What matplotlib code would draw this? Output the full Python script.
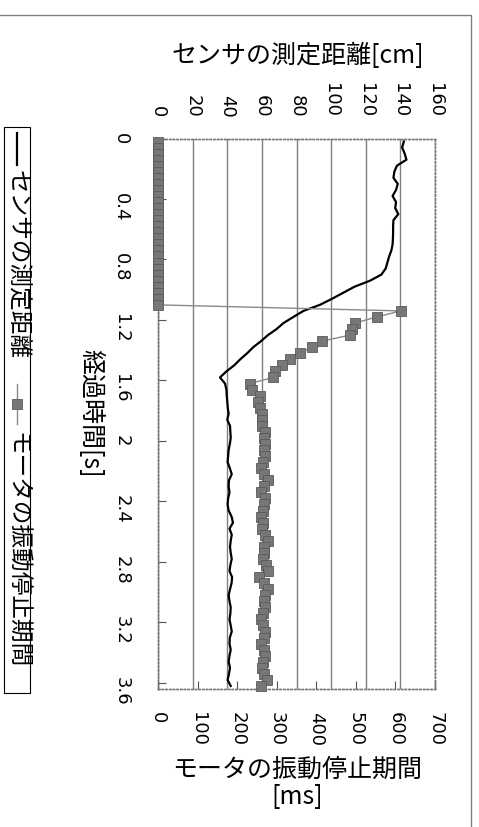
import numpy as np
import matplotlib.pyplot as plt
from matplotlib.lines import Line2D
from matplotlib.patches import Rectangle

plt.rcParams['font.family'] = ['Noto Sans CJK JP', 'DejaVu Sans']

# elapsed time [s], one sample every 0.04 s
time_s = [
    0.02, 0.06, 0.10, 0.14, 0.18, 0.22, 0.26, 0.30, 0.34, 0.38,
    0.42, 0.46, 0.50, 0.54, 0.58, 0.62, 0.66, 0.70, 0.74, 0.78,
    0.82, 0.86, 0.90, 0.94, 0.98, 1.02, 1.06, 1.10, 1.14, 1.18,
    1.22, 1.26, 1.30, 1.34, 1.38, 1.42, 1.46, 1.50, 1.54, 1.58,
    1.62, 1.66, 1.70, 1.74, 1.78, 1.82, 1.86, 1.90, 1.94, 1.98,
    2.02, 2.06, 2.10, 2.14, 2.18, 2.22, 2.26, 2.30, 2.34, 2.38,
    2.42, 2.46, 2.50, 2.54, 2.58, 2.62, 2.66, 2.70, 2.74, 2.78,
    2.82, 2.86, 2.90, 2.94, 2.98, 3.02, 3.06, 3.10, 3.14, 3.18,
    3.22, 3.26, 3.30, 3.34, 3.38, 3.42, 3.46, 3.50, 3.54, 3.58,
    3.62,
]

# sensor distance [cm]
sensor_cm = [
    142.0, 141.0, 142.5, 143.5, 138.0, 136.5, 136.0, 138.5, 137.5, 135.5,
    137.5, 137.0, 138.8, 136.0, 135.8, 135.8, 135.7, 135.5, 134.8, 133.5,
    132.5, 131.5, 129.0, 122.5, 113.5, 107.0, 100.5, 93.5, 84.0, 78.2,
    72.5, 68.5, 63.5, 59.5, 55.0, 51.5, 47.5, 44.0, 39.5, 35.8,
    38.7, 39.5, 39.7, 40.0, 40.3, 40.8, 40.0, 41.6, 41.8, 42.0,
    41.5, 40.8, 40.5, 40.2, 41.5, 42.6, 41.0, 40.8, 41.3, 40.5,
    40.2, 40.8, 42.5, 43.3, 41.3, 42.6, 42.0, 41.6, 42.0, 42.6,
    41.8, 41.3, 42.8, 42.5, 41.6, 40.8, 41.3, 42.0, 41.8, 41.3,
    42.0, 42.6, 41.5, 41.3, 42.0, 41.3, 40.8, 41.6, 41.0, 40.2,
    42.0,
]

# motor vibration stop period [ms]
motor_ms = [
    0, 0, 0, 0, 0, 0, 0, 0, 0, 0,
    0, 0, 0, 0, 0, 0, 0, 0, 0, 0,
    0, 0, 0, 0, 0, 0, 0, 0, 613, 553,
    498, 489, 485, 414, 388, 359, 334, 313, 296, 291,
    233, 237, 258, 253, 258, 262, 262, 263, 270, 268,
    270, 268, 270, 265, 260, 268, 279, 268, 260, 270,
    268, 265, 260, 265, 262, 270, 279, 268, 268, 266,
    272, 279, 256, 268, 279, 270, 268, 270, 265, 260,
    265, 270, 268, 260, 268, 270, 265, 263, 268, 276,
    260,
]

time_ticks = [0, 0.4, 0.8, 1.2, 1.6, 2, 2.4, 2.8, 3.2, 3.6]
time_labels = ['0', '0.4', '0.8', '1.2', '1.6', '2', '2.4', '2.8', '3.2', '3.6']
cm_ticks = np.arange(0, 161, 20)
ms_ticks = np.arange(0, 701, 100)

W, H = 479, 828


def fx(x):
    return x / W


def fy(y):
    return 1 - y / H


fig = plt.figure(figsize=(W / 100, H / 100), dpi=100)

# outer chart frame (only top and right edges visible)
fig.patches.append(Rectangle((-0.05, -0.05), fx(470.7) + 0.05, fy(15.7) + 0.05,
                             transform=fig.transFigure, fill=False,
                             edgecolor='#7f7f7f', linewidth=1.0))

left, right, top, bottom = 158, 435, 139.5, 690
ax = fig.add_axes([fx(left), fy(bottom), (right - left) / W, (bottom - top) / H])

# motor series on the bottom axis
ax.plot(motor_ms, time_s, color='#8a8a8a', linewidth=1.0, marker='s',
        markersize=7, markerfacecolor='#777777', markeredgecolor='#5a5a5a',
        markeredgewidth=0.6, clip_on=False, zorder=3)
ax.set_xlim(0, 700)
ax.set_ylim(3.64, 0)
ax.set_xticks(ms_ticks)
ax.set_xticklabels([str(v) for v in ms_ticks], family='DejaVu Sans', fontsize=13)
ax.set_yticks(time_ticks)
ax.set_yticklabels(time_labels, family='DejaVu Sans', fontsize=13)
ax.tick_params(axis='x', direction='in', length=6, width=0.8, color='#555555',
               labelrotation=-90, pad=16)
ax.tick_params(axis='y', direction='in', length=6, width=0.8, color='#555555',
               labelrotation=-90, pad=20)

# sensor series on the top axis (grid follows this axis)
ax2 = ax.twiny()
ax2.plot(sensor_cm, time_s, color='black', linewidth=1.6, zorder=4)
ax2.set_xlim(0, 160)
ax2.set_xticks(cm_ticks)
ax2.set_xticklabels([str(v) for v in cm_ticks], family='DejaVu Sans', fontsize=13)
ax2.tick_params(axis='x', length=0, labelrotation=-90, pad=16)
ax2.grid(axis='x', color='#808080', linewidth=1.0, linestyle='-')
ax2.set_axisbelow(True)

# keep the motor markers above the grid
ax.set_zorder(ax2.get_zorder() + 1)
ax.patch.set_visible(False)

for a in (ax, ax2):
    for s in a.spines.values():
        s.set_linestyle(':')
        s.set_color('#777777')
        s.set_linewidth(1.0)

# axis titles
fig.text(fx(297.5), fy(56), 'センサの測定距離[cm]', fontsize=18,
         ha='center', va='center')
fig.text(fx(297.5), fy(770), 'モータの振動停止期間', fontsize=18,
         ha='center', va='center')
fig.text(fx(297), fy(797), '[ms]', fontsize=18, ha='center', va='center')
fig.text(fx(90), fy(413), '経過時間[s]', fontsize=18, rotation=-90,
         ha='center', va='center')

# legend drawn by hand, rotated
fig.patches.append(Rectangle((fx(4), fy(694)), fx(30) - fx(4), fy(128) - fy(694),
                             transform=fig.transFigure, fill=False,
                             edgecolor='black', linewidth=0.8))
lx = 17
fig.lines.append(Line2D([fx(lx), fx(lx)], [fy(134), fy(166)],
                        transform=fig.transFigure, color='black', linewidth=1.6))
fig.text(fx(lx), fy(170), 'センサの測定距離', fontsize=17, rotation=-90,
         ha='center', va='top')
fig.lines.append(Line2D([fx(lx), fx(lx)], [fy(385), fy(425)],
                        transform=fig.transFigure, color='#8a8a8a', linewidth=1.0))
fig.lines.append(Line2D([fx(lx)], [fy(405)], transform=fig.transFigure,
                        marker='s', markersize=7, markerfacecolor='#777777',
                        markeredgecolor='#5a5a5a', markeredgewidth=0.6))
fig.text(fx(lx), fy(432), 'モータの振動停止期間', fontsize=17, rotation=-90,
         ha='center', va='top')

plt.savefig('out.png', dpi=100)
